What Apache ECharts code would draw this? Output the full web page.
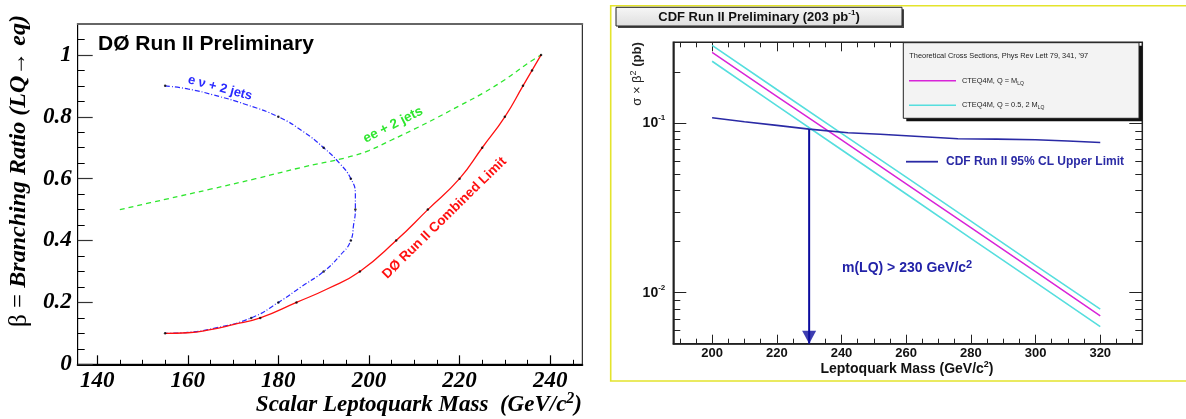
<!DOCTYPE html>
<html>
<head>
<meta charset="utf-8">
<script src="https://cdn.jsdelivr.net/npm/echarts@6/dist/echarts.min.js"></script>
<style>
  html, body { margin: 0; padding: 0; background: #fff; }
  #chart { width: 1186px; height: 419px; }
</style>
</head>
<body>
<div id="chart"></div>
<script>
const SANS = '"Liberation Sans", Arial, sans-serif'
const SERIF = '"Liberation Serif", "Times New Roman", serif'

// --- DØ panel (left): beta vs scalar LQ mass ---
const d0Mass = [135.7, 247.1]
const d0Beta = [0, 1.1]
const d0Limit = [[155, 0.1], [160, 0.102], [165, 0.112], [170, 0.128], [176, 0.15], [184, 0.2], [191, 0.245], [198, 0.3], [206, 0.4], [213, 0.5], [220, 0.6], [225, 0.7], [230, 0.8], [234, 0.9], [236, 0.95], [238, 1.0]]
const enuJets = [[155, 0.9], [160, 0.89], [165.6, 0.871], [173, 0.839], [180, 0.8], [185.5, 0.752], [190, 0.7], [193.5, 0.65], [196, 0.6], [197, 0.55], [197, 0.5], [196.6, 0.45], [196, 0.4], [193.5, 0.35], [190, 0.3], [185, 0.25], [180, 0.2], [174, 0.15], [166, 0.117], [160, 0.103], [155, 0.1]]
const eeJets = [[145, 0.5], [155, 0.533], [165, 0.566], [175, 0.6], [185, 0.636], [195, 0.668], [200, 0.691], [205, 0.725], [210, 0.76], [215, 0.797], [220, 0.836], [225, 0.875], [230, 0.92], [235, 0.972], [238, 1.0]]
const d0Dots = [[155, 0.1], [176, 0.15], [184, 0.2], [198, 0.3], [206, 0.4], [213, 0.5], [220, 0.6], [225, 0.7], [230, 0.8], [234, 0.9], [236, 0.95], [238, 1.0],
  [155, 0.9], [180, 0.8], [190, 0.7], [196, 0.6], [197, 0.5], [196, 0.4], [190, 0.3], [180, 0.2], [174, 0.15]]

const d0MassLabels = [140, 160, 180, 200, 220, 240]
const d0MassMinor = [145, 150, 155, 165, 170, 175, 185, 190, 195, 205, 210, 215, 225, 230, 235, 245]
const d0BetaLabels = [0, 0.2, 0.4, 0.6, 0.8, 1]
const d0BetaMinor = [0.05, 0.1, 0.15, 0.25, 0.3, 0.35, 0.45, 0.5, 0.55, 0.65, 0.7, 0.75, 0.85, 0.9, 0.95, 1.05]

// --- CDF panel (right): sigma x beta^2 vs LQ mass, log scale ---
const cdfMassRange = [188, 333]
const cdfSigmaRange = [0.005, 0.3]
const cdfMass = [200, 210, 220, 230, 242, 252, 264, 276, 288, 300, 310, 320]
const cdfLimit = [0.1076, 0.102, 0.097, 0.0922, 0.0878, 0.086, 0.0835, 0.081, 0.0805, 0.0798, 0.0785, 0.0769]
const theoryMass = [200, 220, 240, 260, 280, 300, 320]
const cteqCentral = [0.262, 0.144, 0.0796, 0.0438, 0.0242, 0.0133, 0.0073]
const cteqHigh = [0.288, 0.158, 0.087, 0.048, 0.0264, 0.0145, 0.008]
const cteqLow = [0.232, 0.127, 0.0697, 0.0382, 0.0209, 0.0115, 0.0063]
const massLimit = 230
const limitAtMass = 0.0922

const cdfMassLabels = [200, 220, 240, 260, 280, 300, 320]
const cdfMassMinor = [190, 195, 205, 210, 215, 225, 230, 235, 245, 250, 255, 265, 270, 275, 285, 290, 295, 305, 310, 315, 325, 330]
const cdfSigmaDecades = [0.01, 0.1]
const cdfSigmaMinor = [0.006, 0.007, 0.008, 0.009, 0.02, 0.03, 0.04, 0.05, 0.06, 0.07, 0.08, 0.09, 0.2, 0.3]

// the log axis is drawn as a linear axis in log10 space
const lg = (v) => Math.log10(v)
const logPairs = (xs, ys) => xs.map((x, i) => [x, lg(ys[i])])

function tickAxis(opts) {
  return Object.assign({
    type: 'value',
    axisLine: { show: false, onZero: false },
    axisLabel: { show: false },
    splitLine: { show: false },
  }, opts)
}

const d0Label = { fontFamily: SERIF, fontSize: 23, fontWeight: 'bold', fontStyle: 'italic', color: '#000' }
const cdfLabel = { fontFamily: SANS, fontSize: 13, fontWeight: 'bold', color: '#111' }

const chart = echarts.init(document.getElementById('chart'))

chart.setOption({
  animation: false,
  backgroundColor: '#fff',
  grid: [
    { left: 77.7, top: 24, width: 504.6, height: 340.3, show: true, borderColor: '#000', borderWidth: 1, containLabel: false, outerBoundsMode: 'none' },
    { left: 673.3, top: 42.3, width: 469, height: 301.4, show: true, borderColor: '#222', borderWidth: 1.5, containLabel: false, outerBoundsMode: 'none' },
  ],
  xAxis: [
    tickAxis({
      gridIndex: 0, position: 'bottom', min: d0Mass[0], max: d0Mass[1],
      axisLine: { show: true, onZero: false, lineStyle: { color: '#000', width: 2 } },
      axisTick: { inside: true, length: 9, customValues: d0MassLabels, lineStyle: { color: '#000', width: 1.2 } },
      axisLabel: Object.assign({ show: true, margin: 5, customValues: d0MassLabels }, d0Label),
    }),
    tickAxis({
      gridIndex: 0, position: 'bottom', min: d0Mass[0], max: d0Mass[1],
      axisTick: { inside: true, length: 4.5, customValues: d0MassMinor, lineStyle: { color: '#000', width: 1 } },
    }),
    tickAxis({
      gridIndex: 0, position: 'top', min: d0Mass[0], max: d0Mass[1],
      axisLine: { show: true, onZero: false, lineStyle: { color: '#666', width: 2 } },
      axisTick: { show: false },
    }),
    tickAxis({
      gridIndex: 1, position: 'bottom', min: cdfMassRange[0], max: cdfMassRange[1],
      axisLine: { show: true, onZero: false, lineStyle: { color: '#222', width: 1.5 } },
      axisTick: { inside: true, length: 9, customValues: cdfMassLabels, lineStyle: { color: '#222', width: 1 } },
      axisLabel: Object.assign({ show: true, margin: 3, customValues: cdfMassLabels }, cdfLabel),
    }),
    tickAxis({
      gridIndex: 1, position: 'bottom', min: cdfMassRange[0], max: cdfMassRange[1],
      axisTick: { inside: true, length: 5, customValues: cdfMassMinor, lineStyle: { color: '#222', width: 1 } },
    }),
    tickAxis({
      gridIndex: 1, position: 'top', min: cdfMassRange[0], max: cdfMassRange[1],
      axisTick: { inside: true, length: 9, customValues: cdfMassLabels, lineStyle: { color: '#222', width: 1 } },
    }),
    tickAxis({
      gridIndex: 1, position: 'top', min: cdfMassRange[0], max: cdfMassRange[1],
      axisTick: { inside: true, length: 5, customValues: cdfMassMinor, lineStyle: { color: '#222', width: 1 } },
    }),
  ],
  yAxis: [
    tickAxis({
      gridIndex: 0, position: 'left', min: d0Beta[0], max: d0Beta[1],
      axisLine: { show: true, onZero: false, lineStyle: { color: '#000', width: 1 } },
      axisTick: { inside: true, length: 15, customValues: d0BetaLabels, lineStyle: { color: '#333', width: 1.2 } },
      axisLabel: Object.assign({ show: true, margin: 6, customValues: d0BetaLabels }, d0Label),
    }),
    tickAxis({
      gridIndex: 0, position: 'left', min: d0Beta[0], max: d0Beta[1],
      axisTick: { inside: true, length: 7, customValues: d0BetaMinor, lineStyle: { color: '#000', width: 1 } },
    }),
    tickAxis({
      gridIndex: 1, position: 'left', min: lg(cdfSigmaRange[0]), max: lg(cdfSigmaRange[1]),
      axisLine: { show: true, onZero: false, lineStyle: { color: '#222', width: 1.5 } },
      axisTick: { inside: true, length: 13, customValues: cdfSigmaDecades.map(lg), lineStyle: { color: '#222', width: 1 } },
      axisLabel: {
        show: true, margin: 8, customValues: cdfSigmaDecades.map(lg),
        formatter: (v) => `{b|10}{e|${Math.round(v)}}`,
        rich: {
          b: { fontFamily: SANS, fontSize: 14, fontWeight: 'bold', color: '#111', lineHeight: 18 },
          e: { fontFamily: SANS, fontSize: 8, fontWeight: 'bold', color: '#111', verticalAlign: 'top', lineHeight: 10 },
        },
      },
    }),
    tickAxis({
      gridIndex: 1, position: 'left', min: lg(cdfSigmaRange[0]), max: lg(cdfSigmaRange[1]),
      axisTick: { inside: true, length: 7, customValues: cdfSigmaMinor.map(lg), lineStyle: { color: '#222', width: 1 } },
    }),
    tickAxis({
      gridIndex: 1, position: 'right', min: lg(cdfSigmaRange[0]), max: lg(cdfSigmaRange[1]),
      axisTick: { inside: true, length: 13, customValues: cdfSigmaDecades.map(lg), lineStyle: { color: '#222', width: 1 } },
    }),
    tickAxis({
      gridIndex: 1, position: 'right', min: lg(cdfSigmaRange[0]), max: lg(cdfSigmaRange[1]),
      axisTick: { inside: true, length: 7, customValues: cdfSigmaMinor.map(lg), lineStyle: { color: '#222', width: 1 } },
    }),
  ],
  series: [
    {
      name: 'ee + 2 jets', type: 'line', xAxisIndex: 0, yAxisIndex: 0, data: eeJets,
      smooth: 0.4, showSymbol: false, lineStyle: { color: '#2ee62e', width: 1.3, type: [5, 4] },
    },
    {
      name: 'e nu + 2 jets', type: 'line', xAxisIndex: 0, yAxisIndex: 0, data: enuJets,
      smooth: 0.5, showSymbol: false, lineStyle: { color: '#2a2aff', width: 1.2, type: [5, 2, 1, 2] },
    },
    {
      name: 'D0 Run II Combined Limit', type: 'line', xAxisIndex: 0, yAxisIndex: 0, data: d0Limit,
      smooth: 0.5, showSymbol: false, lineStyle: { color: '#ff1010', width: 1.3 },
    },
    {
      type: 'scatter', xAxisIndex: 0, yAxisIndex: 0, data: d0Dots,
      symbolSize: 2.5, itemStyle: { color: '#000' }, z: 5,
    },
    {
      name: 'CTEQ4M, Q = 2 M', type: 'line', xAxisIndex: 3, yAxisIndex: 2, data: logPairs(theoryMass, cteqHigh),
      showSymbol: false, lineStyle: { color: '#55dede', width: 1.6 },
    },
    {
      name: 'CTEQ4M, Q = 0.5 M', type: 'line', xAxisIndex: 3, yAxisIndex: 2, data: logPairs(theoryMass, cteqLow),
      showSymbol: false, lineStyle: { color: '#55dede', width: 1.6 },
    },
    {
      name: 'CTEQ4M, Q = M', type: 'line', xAxisIndex: 3, yAxisIndex: 2, data: logPairs(theoryMass, cteqCentral),
      showSymbol: false, lineStyle: { color: '#d824d8', width: 1.5 },
    },
    {
      name: 'CDF Run II 95% CL Upper Limit', type: 'line', xAxisIndex: 3, yAxisIndex: 2, data: logPairs(cdfMass, cdfLimit),
      showSymbol: false, lineStyle: { color: '#2a2aa5', width: 1.6 },
    },
    {
      type: 'line', xAxisIndex: 3, yAxisIndex: 2,
      data: [[massLimit, lg(limitAtMass)], [massLimit, lg(cdfSigmaRange[0])]],
      showSymbol: false, lineStyle: { color: '#0c0c9e', width: 2 },
    },
    {
      type: 'scatter', xAxisIndex: 3, yAxisIndex: 2, clip: false,
      data: [[massLimit, lg(cdfSigmaRange[0])]],
      symbol: 'path://M0,0L10,0L5,9Z', symbolSize: [14, 13], symbolOffset: [0, '-50%'],
      itemStyle: { color: '#0c0c9e' }, z: 6,
    },
  ],
  graphic: [
    // left panel texts
    {
      type: 'text', x: 98, y: 44, z: 10,
      style: { text: 'DØ Run II Preliminary', font: `bold 21px ${SANS}`, fill: '#000', textVerticalAlign: 'middle' },
    },
    {
      type: 'text', x: 19, y: 171, rotation: Math.PI / 2, z: 10,
      style: {
        text: '{g|β = }{t|Branching Ratio (LQ→ eq)}', textAlign: 'center', textVerticalAlign: 'middle',
        rich: {
          g: { fontFamily: SERIF, fontSize: 25, fill: '#000' },
          t: { fontFamily: SERIF, fontSize: 24, fontWeight: 'bold', fontStyle: 'italic', fill: '#000' },
        },
      },
    },
    {
      type: 'text', x: 582, y: 405, z: 10,
      style: {
        text: '{t|Scalar Leptoquark Mass  (GeV/c}{s|2}{t|)}', textAlign: 'right', textVerticalAlign: 'middle',
        rich: {
          t: { fontFamily: SERIF, fontSize: 23, fontWeight: 'bold', fontStyle: 'italic', fill: '#000', lineHeight: 28 },
          s: { fontFamily: SERIF, fontSize: 16, fontWeight: 'bold', fontStyle: 'italic', fill: '#000', verticalAlign: 'top', lineHeight: 18 },
        },
      },
    },
    {
      type: 'text', x: 220, y: 88, rotation: -0.26, z: 10,
      style: { text: 'e ν + 2 jets', font: `bold 13px ${SANS}`, fill: '#2a2aff', textAlign: 'center', textVerticalAlign: 'middle' },
    },
    {
      type: 'text', x: 393, y: 125, rotation: 0.47, z: 10,
      style: { text: 'ee + 2 jets', font: `bold 13.5px ${SANS}`, fill: '#2ee62e', textAlign: 'center', textVerticalAlign: 'middle' },
    },
    {
      type: 'text', x: 444.5, y: 218, rotation: 0.775, z: 10,
      style: { text: 'DØ Run II Combined Limit', font: `bold 13.5px ${SANS}`, fill: '#ff1010', textAlign: 'center', textVerticalAlign: 'middle' },
    },

    // right panel decorations
    {
      type: 'rect', z: 1, silent: true,
      shape: { x: 610.7, y: 5.7, width: 600, height: 375.3 },
      style: { fill: 'none', stroke: '#e4e42c', lineWidth: 1.6 },
    },
    {
      type: 'rect', z: 10, silent: true,
      shape: { x: 618, y: 9.3, width: 286, height: 18.7 },
      style: { fill: '#444' },
    },
    {
      type: 'rect', z: 11, silent: true,
      shape: { x: 616, y: 7.3, width: 286, height: 18.7 },
      style: {
        fill: new echarts.graphic.LinearGradient(0, 0, 0, 1, [{ offset: 0, color: '#f7f7f7' }, { offset: 1, color: '#dedede' }]),
        stroke: '#222', lineWidth: 1,
      },
    },
    {
      type: 'text', x: 759, y: 17, z: 12,
      style: {
        text: '{t|CDF Run II Preliminary (203 pb}{s|-1}{t|)}', textAlign: 'center', textVerticalAlign: 'middle',
        rich: {
          t: { fontFamily: SANS, fontSize: 13, fontWeight: 'bold', fill: '#111', lineHeight: 16 },
          s: { fontFamily: SANS, fontSize: 8, fontWeight: 'bold', fill: '#111', verticalAlign: 'top', lineHeight: 9 },
        },
      },
    },
    {
      type: 'text', x: 637.5, y: 74, rotation: Math.PI / 2, z: 10,
      style: {
        text: '{n|σ × β}{s|2}{b| (pb)}', textAlign: 'center', textVerticalAlign: 'middle',
        rich: {
          n: { fontFamily: SANS, fontSize: 13, fill: '#222', lineHeight: 16 },
          s: { fontFamily: SANS, fontSize: 9, fill: '#222', verticalAlign: 'top', lineHeight: 10 },
          b: { fontFamily: SANS, fontSize: 13, fontWeight: 'bold', fill: '#222', lineHeight: 16 },
        },
      },
    },
    {
      type: 'text', x: 907, y: 369, z: 10,
      style: {
        text: '{t|Leptoquark Mass (GeV/c}{s|2}{t|)}', textAlign: 'center', textVerticalAlign: 'middle',
        rich: {
          t: { fontFamily: SANS, fontSize: 14, fontWeight: 'bold', fill: '#111', lineHeight: 17 },
          s: { fontFamily: SANS, fontSize: 9, fontWeight: 'bold', fill: '#111', verticalAlign: 'top', lineHeight: 10 },
        },
      },
    },

    // theory legend box
    {
      type: 'rect', z: 20, silent: true,
      shape: { x: 906.3, y: 45.7, width: 235.7, height: 75.6 },
      style: { fill: '#111' },
    },
    {
      type: 'rect', z: 21, silent: true,
      shape: { x: 903.3, y: 42.7, width: 235.7, height: 75.6 },
      style: { fill: '#f3f3f3', stroke: '#222', lineWidth: 1 },
    },
    {
      type: 'text', x: 909.3, y: 55.5, z: 22,
      style: { text: "Theoretical Cross Sections, Phys Rev Lett 79, 341, '97", font: `7.4px ${SANS}`, fill: '#222', textVerticalAlign: 'middle' },
    },
    {
      type: 'line', z: 22, silent: true,
      shape: { x1: 909, y1: 80.7, x2: 956, y2: 80.7 },
      style: { stroke: '#d824d8', lineWidth: 1.5 },
    },
    {
      type: 'text', x: 962, y: 80.7, z: 22,
      style: {
        text: '{t|CTEQ4M, Q = M}{s|LQ}', textVerticalAlign: 'middle',
        rich: {
          t: { fontFamily: SANS, fontSize: 7.4, fill: '#222', lineHeight: 10 },
          s: { fontFamily: SANS, fontSize: 5, fill: '#222', verticalAlign: 'bottom', lineHeight: 6 },
        },
      },
    },
    {
      type: 'line', z: 22, silent: true,
      shape: { x1: 909, y1: 105.3, x2: 956, y2: 105.3 },
      style: { stroke: '#55dede', lineWidth: 1.5 },
    },
    {
      type: 'text', x: 962, y: 105.3, z: 22,
      style: {
        text: '{t|CTEQ4M, Q = 0.5, 2 M}{s|LQ}', textVerticalAlign: 'middle',
        rich: {
          t: { fontFamily: SANS, fontSize: 7.4, fill: '#222', lineHeight: 10 },
          s: { fontFamily: SANS, fontSize: 5, fill: '#222', verticalAlign: 'bottom', lineHeight: 6 },
        },
      },
    },

    // limit legend entry and mass limit note
    {
      type: 'line', z: 10, silent: true,
      shape: { x1: 906, y1: 161.7, x2: 938, y2: 161.7 },
      style: { stroke: '#2a2aa5', lineWidth: 1.8 },
    },
    {
      type: 'text', x: 946, y: 162, z: 10,
      style: { text: 'CDF Run II 95% CL Upper Limit', font: `bold 12px ${SANS}`, fill: '#2a2aa5', textVerticalAlign: 'middle' },
    },
    {
      type: 'text', x: 842, y: 268, z: 10,
      style: {
        text: '{t|m(LQ) > 230 GeV/c}{s|2}', textVerticalAlign: 'middle',
        rich: {
          t: { fontFamily: SANS, fontSize: 14, fontWeight: 'bold', fill: '#2222a8', lineHeight: 18 },
          s: { fontFamily: SANS, fontSize: 11, fontWeight: 'bold', fill: '#2222a8', verticalAlign: 'top', lineHeight: 11 },
        },
      },
    },
  ],
})
</script>
</body>
</html>
